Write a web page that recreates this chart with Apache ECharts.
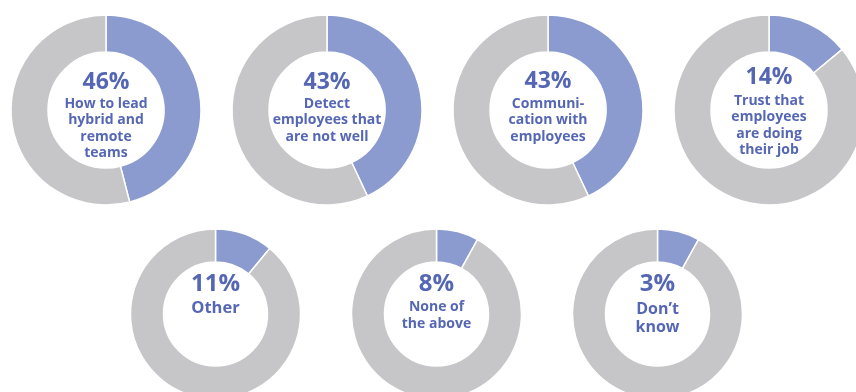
<!DOCTYPE html>
<html>
<head>
<meta charset="utf-8">
<script src="https://cdn.jsdelivr.net/npm/echarts@6/dist/echarts.min.js"></script>
<style>
  html, body { margin: 0; padding: 0; background: #fff; overflow: hidden; }
  #chart { width: 856px; height: 392px; }
</style>
</head>
<body>
<div id="chart"></div>
<script>
// top row
var topPercents = [46, 43, 43, 14];
var topLabels = [
	"How to lead\nhybrid and\nremote\nteams",
	"Detect\nemployees that\nare not well",
	"Communi-\ncation with\nemployees",
	"Trust that\nemployees\nare doing\ntheir job"
];
// bottom row
var bottomPercents = [11, 8, 3];
// the arc of "Don't know" is drawn as wide as the 8% one in the source
var bottomArcs = [11, 8, 8];
var bottomLabels = ["Other", "None of\nthe above", "Don\u2019t\nknow"];

var blue = "#8b9bcf";
var grey = "#c6c6c8";
var textColor = "#5567b4";
var font = "'Open Sans', 'Noto Sans', sans-serif";

function donut(cx, cy, r0, r1, value){
	return {
		type: 'pie',
		center: [cx, cy],
		radius: [r0, r1],
		startAngle: 90,
		clockwise: true,
		silent: true,
		animation: false,
		label: { show: false },
		labelLine: { show: false },
		itemStyle: { borderColor: '#fff', borderWidth: 1.5 },
		data: [
			{ value: value, itemStyle: { color: blue } },
			{ value: 100 - value, itemStyle: { color: grey } }
		]
	};
}

// text block whose first line is centred on y
function txt(x, y, s, size, lh){
	return {
		type: 'text', x: x, y: y - lh / 2, silent: true,
		style: {
			text: s, fill: textColor, font: 'bold ' + size + 'px ' + font,
			textAlign: 'center', textVerticalAlign: 'top', lineHeight: lh
		}
	};
}

var series = [];
var graphic = [];

// ---- top row ----
var topCx = [106, 327, 548, 769];
var topPctY = [82, 82, 81, 77];
var topLineY = [104, 104, 104, 101];
for(var i = 0; i < topPercents.length; i++){
	series.push(donut(topCx[i], 110, 58, 95, topPercents[i]));
	graphic.push(txt(topCx[i], topPctY[i], topPercents[i] + "%", 23, 23));
	graphic.push(txt(topCx[i], topLineY[i], topLabels[i], 14, 16.3));
}

// ---- bottom row ----
var botCx = [215.5, 436.5, 657.5];
var botSize = [16.5, 14, 16];
var botLh = [17, 16.4, 18.4];
var botLineY = [308.3, 307.3, 309.3];
for(var j = 0; j < bottomPercents.length; j++){
	series.push(donut(botCx[j], 314, 52, 85, bottomArcs[j]));
	graphic.push(txt(botCx[j], 284, bottomPercents[j] + "%", 24, 24));
	graphic.push(txt(botCx[j], botLineY[j], bottomLabels[j], botSize[j], botLh[j]));
}

var chart = echarts.init(document.getElementById('chart'));
chart.setOption({ animation: false, series: series, graphic: graphic });
</script>
</body>
</html>
